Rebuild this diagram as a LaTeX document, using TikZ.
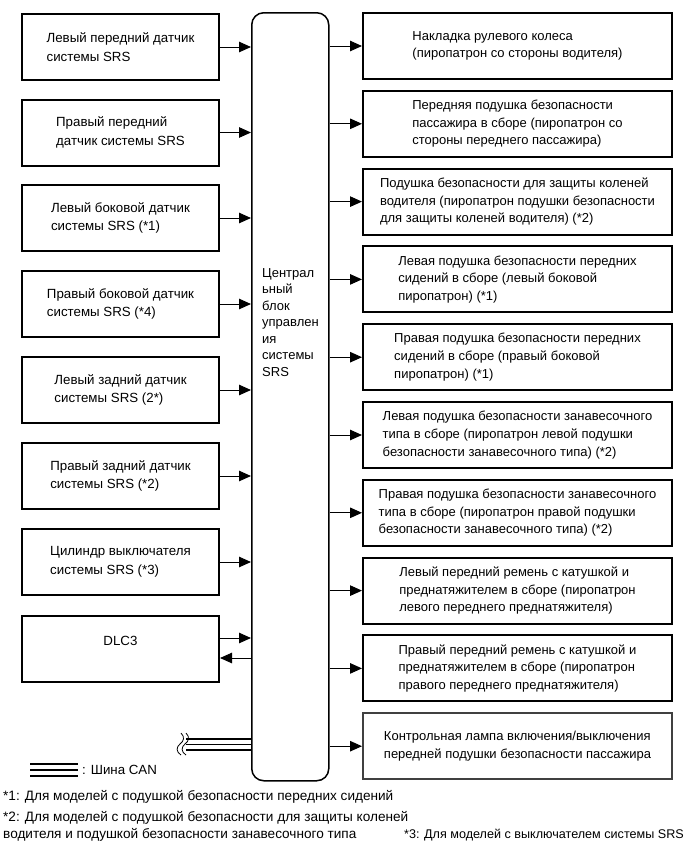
\documentclass[tikz,border=0pt]{standalone}
\usepackage{fontspec}
\setmainfont{Liberation Sans}
\usetikzlibrary{arrows.meta}
\begin{document}
\begin{tikzpicture}[x=1pt,y=-1pt,
  box/.style={draw,line width=2pt,minimum width=197pt,minimum height=66pt,inner sep=0pt,
    font=\fontsize{13.3}{18.5}\selectfont,align=left,anchor=north west},
  rbox/.style={box,minimum width=309pt,font=\fontsize{13}{17.7}\selectfont},
  conn/.style={line width=1pt,-{Triangle[length=12pt,width=10.5pt]}},
  canthick/.style={line width=2pt},
  canthin/.style={line width=1.1pt},
  note/.style={font=\fontsize{13.6}{15}\selectfont,anchor=west,inner sep=0pt},
]
\useasboundingbox (0,0) rectangle (690,855);

% central unit
\node (C) [draw,line width=1.5pt,rounded corners=12pt,minimum width=77pt,minimum height=768pt,
  anchor=north west,inner sep=0pt] at (251,12) {};
\node (Ct) [font=\fontsize{13}{16.5}\selectfont,align=left,anchor=west,inner sep=0pt] at (262,322.5)
  {Централ\\ьный\\блок\\управлен\\ия\\системы\\SRS};

% left boxes
\node (L1) [box] at (21,13)  {Левый передний датчик\\системы SRS};
\node (L2) [box] at (21,98.5)  {Правый передний\\датчик системы SRS};
\node (L3) [box] at (21,184) {Левый боковой датчик\\системы SRS (*1)};
\node (L4) [box] at (21,270) {Правый боковой датчик\\системы SRS (*4)};
\node (L5) [box] at (21,356) {Левый задний датчик\\системы SRS (2*)};
\node (L6) [box] at (21,442) {Правый задний датчик\\системы SRS (*2)};
\node (L7) [box] at (21,528) {Цилиндр выключателя\\системы SRS (*3)};
\node (L8) [box] at (21,614.5) {};
\node (L8t) [font=\fontsize{13.3}{16}\selectfont,inner sep=0pt] at ([yshift=8pt]L8.center) {DLC3};

\foreach \i in {1,...,7}{
  \draw[conn] (L\i.east) -- (L\i.east -| C.west);
}
\coordinate (d1) at ([yshift=10.5pt]L8.east);
\coordinate (d2) at ([yshift=-9.5pt]L8.east);
\draw[conn] (d1) -- (d1 -| C.west);
\draw[conn] (d2 -| C.west) -- (d2);

% right boxes
\node (R1)  [rbox] at (362,12)    {Накладка рулевого колеса\\(пиропатрон со стороны водителя)};
\node (R2)  [rbox] at (362,89.8)  {Передняя подушка безопасности\\пассажира в сборе (пиропатрон со\\стороны переднего пассажира)};
\node (R3)  [rbox] at (362,167.6) {Подушка безопасности для защиты коленей\\водителя (пиропатрон подушки безопасности\\для защиты коленей водителя) (*2)};
\node (R4)  [rbox] at (362,245.4) {Левая подушка безопасности передних\\сидений в сборе (левый боковой\\пиропатрон) (*1)};
\node (R5)  [rbox] at (362,323.2) {Правая подушка безопасности передних\\сидений в сборе (правый боковой\\пиропатрон) (*1)};
\node (R6)  [rbox] at (362,401)   {Левая подушка безопасности занавесочного\\типа в сборе (пиропатрон левой подушки\\безопасности занавесочного типа) (*2)};
\node (R7)  [rbox] at (362,478.8) {Правая подушка безопасности занавесочного\\типа в сборе (пиропатрон правой подушки\\безопасности занавесочного типа) (*2)};
\node (R8)  [rbox] at (362,556.6) {Левый передний ремень с катушкой и\\преднатяжителем в сборе (пиропатрон\\левого переднего преднатяжителя)};
\node (R9)  [rbox] at (362,634.4) {Правый передний ремень с катушкой и\\преднатяжителем в сборе (пиропатрон\\правого переднего преднатяжителя)};
\node (R10) [rbox,draw=black!75] at (362,712.2) {Контрольная лампа включения/выключения\\передней подушки безопасности пассажира};

\foreach \i in {1,...,10}{
  \draw[conn] (R\i.west -| C.east) -- (R\i.west);
}

% CAN bus
\coordinate (can1) at (186,739);
\coordinate (can2) at (186,744.5);
\coordinate (can3) at (186,750);
\draw[canthick] (can1) -- (can1 -| C.west);
\draw[canthin]  (can2) -- (can2 -| C.west);
\draw[canthick] (can3) -- (can3 -| C.west);
\foreach \x in {180,185}{
  \draw[line width=0.8pt] (\x+1,733) .. controls (\x+5,737) and (\x+4,741) .. (\x,744)
     .. controls (\x-4,747) and (\x-4,752) .. (\x+1,755);
}

% legend
\coordinate (lg1) at (30,764);
\coordinate (lg2) at (30,770);
\coordinate (lg3) at (30,776);
\draw[canthick] (lg1) -- ++(48,0);
\draw[canthin]  (lg2) -- ++(48,0);
\draw[canthick] (lg3) -- ++(48,0);
\node (lgt) [font=\fontsize{13.3}{16}\selectfont,anchor=west,inner sep=0pt] at (82,770) {: Шина CAN};

% footnotes
\node (n1) [note] at (3,797) {*1: Для моделей с подушкой безопасности передних сидений};
\node (n2) [note] at (3,818) {*2: Для моделей с подушкой безопасности для защиты коленей};
\node (n2b) [note] at (3,835) {водителя и подушкой безопасности занавесочного типа};
\node (n3) [note,font=\fontsize{12.6}{15}\selectfont,anchor=east] at (684,835) {*3: Для моделей с выключателем системы SRS};
\end{tikzpicture}
\end{document}
